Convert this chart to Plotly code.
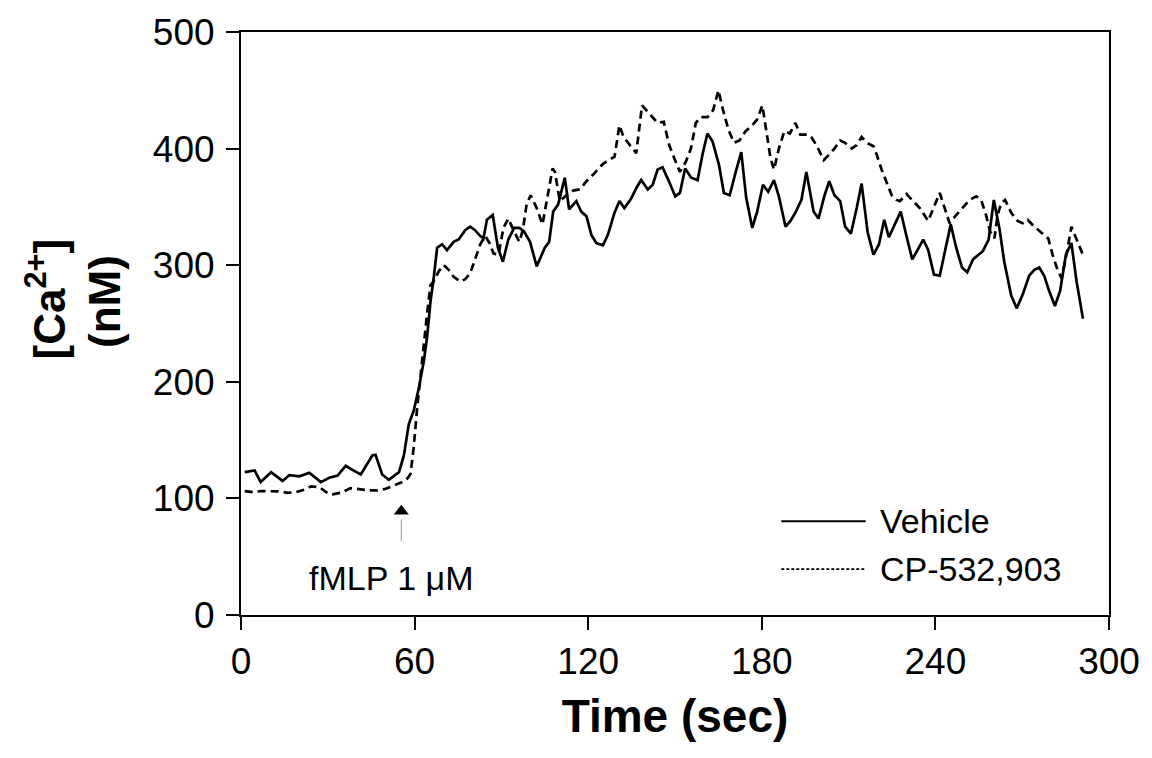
import plotly.graph_objects as go

# ---- data ----
veh_t = [1.3, 4.7, 6.8, 10.4, 14.4, 16.7, 20.2, 23.6, 27.6, 30.5, 33.4, 36.2, 38.5, 41.4, 45.4, 46.5,
         48.8, 51.1, 54.6, 56.3, 58.0, 59.7, 61.5, 63.2, 64.3, 65.5, 66.6, 67.8, 69.5, 71.2, 73.5, 75.2,
         77.5, 79.2, 80.9, 82.7, 83.8, 85.0, 87.0, 88.8, 90.5, 92.4, 94.4, 96.2, 97.8, 99.9, 102.2, 103.9,
         105.0, 106.5, 107.9, 109.6, 111.9, 113.4, 115.9, 117.6, 119.4, 121.1, 122.8, 125.1, 126.8, 129.1,
         130.8, 132.5, 134.8, 136.6, 138.3, 140.6, 142.3, 144.0, 145.7, 147.7, 150.1, 151.7, 153.5, 155.6,
         157.8, 159.5, 161.2, 163.0, 165.2, 166.9, 168.9, 171.0, 172.9, 174.6, 176.7, 178.4, 180.4, 182.2,
         184.2, 185.9, 188.2, 189.9, 191.6, 193.7, 195.4, 197.9, 199.6, 201.7, 203.3, 205.1, 207.1, 208.8,
         210.8, 212.8, 214.5, 216.6, 218.6, 220.5, 222.3, 223.9, 226.0, 228.0, 230.0, 232.0, 233.8, 235.8,
         237.5, 239.5, 241.5, 243.2, 245.3, 247.2, 249.2, 251.0, 253.0, 254.9, 256.4, 258.4, 260.2, 262.1,
         263.8, 266.2, 268.1, 270.2, 272.4, 274.2, 275.9, 277.6, 279.3, 281.3, 283.1, 285.1, 287.0, 288.8,
         291.0]
veh_y = [122.5, 124, 114, 122.5, 115, 120, 119, 122, 114, 117.7, 119.6, 128, 124.5, 120.5, 136.8, 137.3,
         120.5, 116, 122.5, 136.8, 163.8, 175.2, 195, 218, 238, 269, 289, 315, 318, 313, 320, 322,
         330, 333, 330, 325, 323, 339, 343, 315, 303, 322, 332, 332, 329, 320, 299, 308,
         315, 320, 346, 352, 375, 348, 355, 346, 342, 326, 319, 317, 326, 345,
         355, 349, 357, 366, 373, 365, 369, 382, 384, 373, 359, 362, 383, 375,
         373, 395, 413, 406, 386, 362, 360, 380, 397, 358, 332, 346, 369, 363,
         373, 359, 333, 338, 345, 356, 380, 346, 340, 360, 372, 360, 355, 333,
         327, 349, 370, 328, 309, 318, 339, 324, 335, 346, 325, 305, 313, 322,
         313, 292, 291, 312, 335, 315, 298, 294, 305, 309, 312, 322, 356, 332,
         303, 274, 263, 275, 291, 296, 298, 291, 278, 265, 278, 309, 319, 286,
         254]

cp_t = [1.3, 4.1, 7.0, 10.4, 13.3, 16.2, 19.0, 21.9, 24.2, 27.1, 29.4, 31.6, 34.5, 37.9, 40.8, 44.3,
        47.1, 50.0, 52.9, 55.5, 57.0, 58.6, 59.7, 60.9, 62.0, 63.2, 64.3, 65.5, 66.6, 68.4, 70.1, 71.8,
        73.5, 75.8, 77.5, 79.2, 80.9, 82.7, 84.4, 85.9, 87.3, 89.0, 90.7, 92.4, 94.2, 96.2, 97.4, 98.7,
        100.1, 102.2, 104.2, 105.6, 107.7, 108.5, 110.2, 112.5, 114.8, 117.1, 119.4, 122.2, 125.1, 129.1,
        130.8, 132.2, 134.3, 136.6, 138.6, 141.1, 144.0, 146.1, 148.0, 149.7, 151.7, 153.8, 155.5, 157.2,
        158.9, 161.2, 163.2, 165.0, 166.6, 168.5, 170.4, 172.3, 174.4, 176.7, 178.4, 180.2, 181.3, 183.0,
        184.2, 185.9, 187.8, 189.7, 191.6, 193.3, 195.6, 197.1, 199.1, 201.4, 203.3, 205.1, 207.1, 208.8,
        211.1, 212.8, 214.5, 216.3, 218.6, 219.7, 221.4, 223.1, 224.9, 226.6, 227.7, 230.0, 232.3, 234.6,
        237.5, 239.8, 241.5, 243.2, 244.9, 247.2, 249.5, 251.8, 254.1, 255.8, 257.5, 258.9, 260.4, 261.5,
        262.7, 264.1, 266.2, 268.4, 270.2, 271.9, 274.2, 276.5, 279.0, 280.5, 282.2, 283.6, 285.1, 287.0,
        288.8, 290.8]
cp_y = [106.3, 105.4, 106.3, 106.3, 106, 104.8, 105.4, 107.4, 110.3, 109.7, 105.4, 103.4, 104.8, 108.8, 107.7, 106.8,
        106.8, 108.3, 111.1, 114, 115.4, 121, 144, 178, 207, 232, 258, 283, 286, 295, 300, 296,
        290, 286, 288, 293, 305, 318, 325, 319, 310, 309, 332, 340, 330, 320, 330, 352,
        360, 349, 335, 355, 383, 380, 355, 360, 364, 365, 372, 379, 387, 393,
        420, 410, 403, 396, 437, 430, 422, 423, 403, 392, 380, 389, 400, 422,
        427, 427, 433, 450, 433, 416, 405, 407, 415, 420, 425, 437, 420, 392,
        382, 400, 415, 413, 422, 412, 412, 410, 402, 390, 395, 400, 407, 405,
        400, 403, 410, 405, 402, 395, 382, 372, 360, 356, 355, 361, 355, 349,
        338, 352, 362, 349, 336, 343, 350, 356, 359, 356, 343, 329, 323, 343,
        353, 356, 345, 338, 336, 339, 333, 328, 323, 309, 296, 289, 306, 333,
        322, 310]

x_ticks = [0, 60, 120, 180, 240, 300]
y_ticks = [0, 100, 200, 300, 400, 500]
series_names = ["Vehicle", "CP-532,903"]

# annotation (stimulus marker)
stim_t = 55.4
stim_label = "fMLP 1 \u03bcM"

FONT = "Arial, Liberation Sans, sans-serif"

# plot area in pixels
L, R, T, B = 241, 1115, 30, 615
W, H = 1152, 758


def px_x(p):
    return (p - L) / (R - L)


def px_y(p):
    return 1 - (p - T) / (B - T)


fig = go.Figure()
fig.add_trace(go.Scatter(x=veh_t, y=veh_y, mode="lines", name=series_names[0],
                         line=dict(color="black", width=2.7), showlegend=False))
fig.add_trace(go.Scatter(x=cp_t, y=cp_y, mode="lines", name=series_names[1],
                         line=dict(color="black", width=2.7, dash="8px,5px"), showlegend=False))

# stimulus arrow: gray stem + black head
fig.add_shape(type="line", xref="x", yref="y", x0=stim_t, x1=stim_t, y0=63, y1=82,
              line=dict(color="#999999", width=1))
fig.add_trace(go.Scatter(x=[stim_t], y=[89], mode="markers", showlegend=False, hoverinfo="skip",
                         marker=dict(symbol="triangle-up", size=13, color="black")))
fig.add_annotation(x=px_x(392), y=px_y(578), xref="paper", yref="paper", text=stim_label,
                   showarrow=False, font=dict(family=FONT, size=34, color="black"),
                   xanchor="center", yanchor="middle")

# manual legend
leg = [(series_names[0], "solid", 521), (series_names[1], "3px,2px", 569)]
for name, dash, py in leg:
    fig.add_shape(type="line", xref="paper", yref="paper", x0=px_x(785), x1=px_x(870),
                  y0=px_y(py), y1=px_y(py),
                  line=dict(color="black", width=2 if dash == "solid" else 1.6, dash=dash))
    fig.add_annotation(xref="paper", yref="paper", x=px_x(882), y=px_y(py), text=name,
                       showarrow=False, xanchor="left", yanchor="middle",
                       font=dict(family=FONT, size=34, color="black"))

# y-axis title as two rotated lines
fig.add_annotation(xref="paper", yref="paper", x=px_x(44), y=px_y(298),
                   text="<b>[Ca<sup>2+</sup>]</b>", textangle=-90, showarrow=False,
                   xanchor="center", yanchor="middle",
                   font=dict(family=FONT, size=44, color="black"))
fig.add_annotation(xref="paper", yref="paper", x=px_x(103), y=px_y(300),
                   text="<b>(nM)</b>", textangle=-90, showarrow=False,
                   xanchor="center", yanchor="middle",
                   font=dict(family=FONT, size=44, color="black"))

axis_common = dict(showgrid=False, zeroline=False, showline=True, linecolor="black", linewidth=2,
                   ticks="outside", ticklen=13, tickwidth=2, tickcolor="black", mirror=True,
                   tickfont=dict(family=FONT, size=37, color="black"))

fig.update_layout(
    width=W, height=H,
    margin=dict(l=L, r=W - R, t=T, b=H - B),
    paper_bgcolor="white", plot_bgcolor="white",
    xaxis=dict(range=[0, 300], tickvals=x_ticks, **axis_common,
               title=dict(text="<b>Time (sec)</b>", font=dict(family=FONT, size=46, color="black"),
                          standoff=18)),
    yaxis=dict(range=[0, 500], tickvals=y_ticks, ticklabelstandoff=4, **axis_common),
)

fig.write_html("out.html", config={"displayModeBar": False},
               post_script="document.body.style.margin='0';")
